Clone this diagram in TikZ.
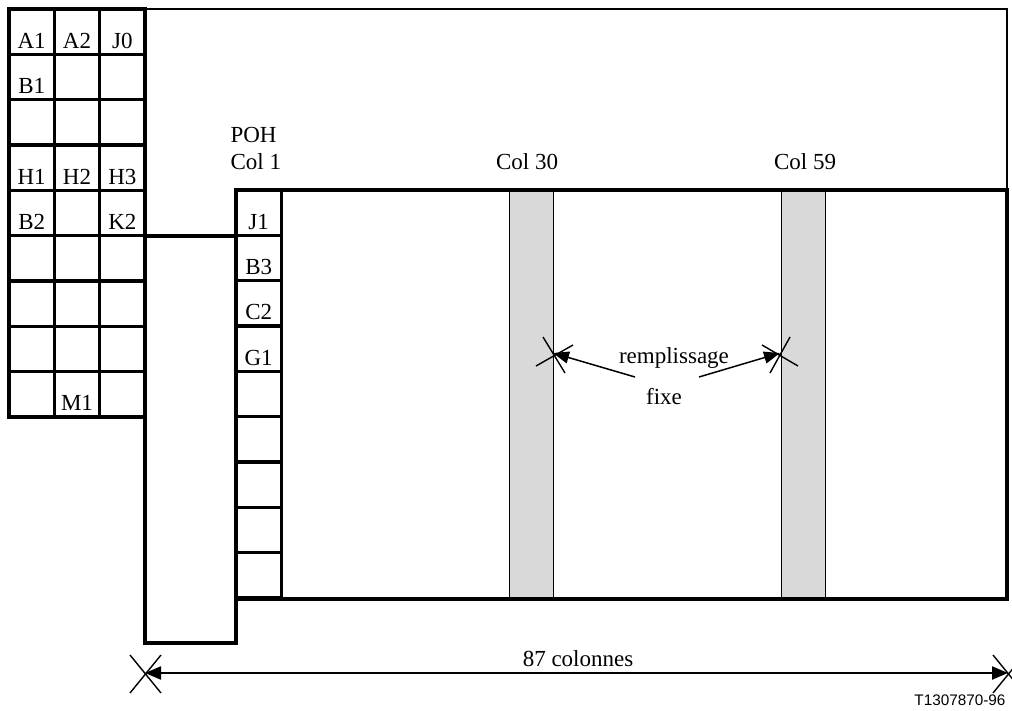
\documentclass[tikz,border=0pt]{standalone}
\usepackage{fontspec}
\setmainfont{Liberation Serif}
\newfontfamily\labelfont{Liberation Sans}
\usetikzlibrary{positioning,arrows.meta}
\definecolor{fillgray}{RGB}{217,217,217}
\tikzset{node distance=0pt, cell/.style={draw,line width=3.2pt,minimum width=45.33pt,minimum height=45.33pt,inner sep=0pt,outer sep=0pt,text height=33pt,text depth=0pt},
	shade/.style={draw,line width=1pt,fill=fillgray}, bold/.style={line width=3.6pt}, fine/.style={line width=1.4pt},
	dim/.style={line width=2.2pt,{Triangle[length=16pt,width=13pt]}-{Triangle[length=16pt,width=13pt]}},
	pointer/.style={line width=1.5pt,-{Triangle[length=16pt,width=12pt]}}}

\begin{document}
\begin{tikzpicture}[x=1pt,y=-1pt,font=\fontsize{23}{27}\selectfont]
				\useasboundingbox (0,0) rectangle (1012,711);

				% shaded columns 30 and 59
				\draw[shade] (509,190) rectangle (553,599);
				\draw[shade] (781,190) rectangle (825,599);

				% thin outer frame and thick outline
				\draw[fine] (145,9) -- (1007,9) -- (1007,190);
				\draw[bold] (236,190) -- (1007,190) -- (1007,599) -- (236,599) -- (236,643) -- (145,643) -- (145,236) -- (236,236);

				% section overhead
				\node[cell] (G11) at (31.67,31.67) {A1};
				\node[cell] (G12) [right=of G11] {A2};
				\node[cell] (G13) [right=of G12] {J0};
				\node[cell] (G21) [below=of G11] {B1};
				\node[cell] (G22) [right=of G21] {};
				\node[cell] (G23) [right=of G22] {};
				\node[cell] (G31) [below=of G21] {};
				\node[cell] (G32) [right=of G31] {};
				\node[cell] (G33) [right=of G32] {};
				\node[cell] (G41) [below=of G31] {H1};
				\node[cell] (G42) [right=of G41] {H2};
				\node[cell] (G43) [right=of G42] {H3};
				\node[cell] (G51) [below=of G41] {B2};
				\node[cell] (G52) [right=of G51] {};
				\node[cell] (G53) [right=of G52] {K2};
				\node[cell] (G61) [below=of G51] {};
				\node[cell] (G62) [right=of G61] {};
				\node[cell] (G63) [right=of G62] {};
				\node[cell] (G71) [below=of G61] {};
				\node[cell] (G72) [right=of G71] {};
				\node[cell] (G73) [right=of G72] {};
				\node[cell] (G81) [below=of G71] {};
				\node[cell] (G82) [right=of G81] {};
				\node[cell] (G83) [right=of G82] {};
				\node[cell] (G91) [below=of G81] {};
				\node[cell] (G92) [right=of G91] {M1};
				\node[cell] (G93) [right=of G92] {};

				% POH column
				\node[cell] (P1) at (258.67,212.67) {J1};
				\node[cell] (P2) [below=of P1] {B3};
				\node[cell] (P3) [below=of P2] {C2};
				\node[cell] (P4) [below=of P3] {G1};
				\node[cell] (P5) [below=of P4] {};
				\node[cell] (P6) [below=of P5] {};
				\node[cell] (P7) [below=of P6] {};
				\node[cell] (P8) [below=of P7] {};
				\node[cell] (P9) [below=of P8] {};

				% labels
				\node[anchor=west,align=left] (POH) at (227,148) {POH\\Col 1};
				\node (C30) at (527,162) {Col 30};
				\node (C59) at (805,162) {Col 59};
				\node (REM) at (674,358) {remplissage};
				\node (FIX) at (664,397) {fixe};
				\node (COL) at (578,659) {87 colonnes};
				\node[anchor=east,font=\labelfont\fontsize{15.3}{18}\selectfont] (REF) at (1009,700) {T1307870-96};

				% fixed stuff pointers
				\coordinate (S1) at (635,377);
				\coordinate (T1) at (553,353);
				\coordinate (S2) at (699,377);
				\coordinate (T2) at (780,353);
				\draw[pointer] (S1) -- (T1);
				\draw[pointer] (S2) -- (T2);
				\draw[fine] (536,366) -- (573,345) (543,337) -- (565,373);
				\draw[fine] (762,345) -- (798,366) (790,337) -- (770,373);

				% 87 columns
				\coordinate (D1) at (145,673);
				\coordinate (D2) at (1008,673);
				\draw[dim] (D1) -- (D2);
				\draw[fine] (130,655) -- (161,693) (130,693) -- (161,655);
				\draw[fine] (993,655) -- (1024,693) (993,693) -- (1024,655);
			\end{tikzpicture}
\end{document}
